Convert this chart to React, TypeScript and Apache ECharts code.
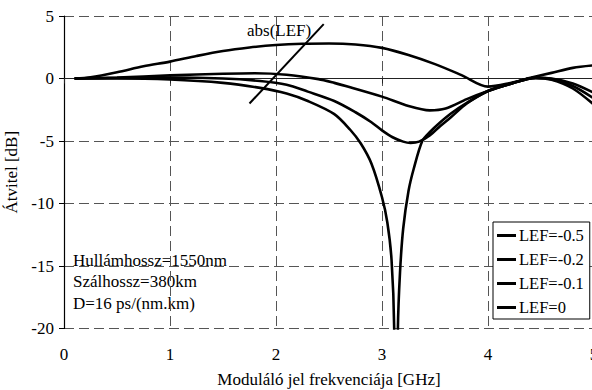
import React, { useEffect, useRef } from "react";
import * as echarts from "echarts";

const seriesNames = ["LEF=-0.5", "LEF=-0.2", "LEF=-0.1", "LEF=0"];

const freqA = [0.1, 0.25, 0.5, 0.75, 1.0, 1.25, 1.5, 1.75, 2.0, 2.25, 2.5, 2.75, 3.0, 3.25, 3.5, 3.75, 4.0, 4.2, 4.4, 4.6, 4.8, 5.0];
const valsA = [0, 0.1, 0.5, 0.98, 1.35, 1.8, 2.2, 2.48, 2.68, 2.78, 2.8, 2.72, 2.45, 1.88, 1.15, 0.27, -0.65, -0.38, 0.05, 0.45, 0.85, 1.05];

const freqB = [0.1, 0.5, 1.0, 1.5, 1.8, 2.1, 2.4, 2.55, 2.7, 3.0, 3.25, 3.45, 3.6, 3.8, 4.0, 4.2, 4.45, 4.6, 4.8, 5.0];
const valsB = [0, 0.08, 0.25, 0.38, 0.42, 0.3, -0.05, -0.35, -0.7, -1.45, -2.2, -2.55, -2.4, -1.65, -1.0, -0.45, 0.05, 0.0, -0.4, -1.15];

const freqC = [0.1, 0.5, 1.0, 1.5, 1.85, 2.1, 2.3, 2.55, 2.75, 2.9, 3.0, 3.1, 3.2, 3.27, 3.35, 3.45, 3.55, 3.65, 3.8, 4.0, 4.2, 4.45, 4.6, 4.8, 5.0];
const valsC = [0, 0.04, 0.08, 0.0, -0.2, -0.5, -1.05, -1.8, -2.7, -3.5, -4.15, -4.7, -5.05, -5.15, -5.05, -4.55, -3.8, -3.1, -2.0, -1.0, -0.45, 0.05, -0.05, -0.6, -1.6];

const freqD = [0.1, 0.5, 1.0, 1.5, 1.85, 2.1, 2.3, 2.55, 2.7, 2.8, 2.9, 3.0, 3.05, 3.09, 3.115, 3.13, 3.15, 3.17, 3.2, 3.25, 3.3, 3.38, 3.45, 3.55, 3.65, 3.8, 4.0, 4.2, 4.45, 4.6, 4.8, 5.0];
const valsD = [0, 0, -0.08, -0.35, -0.75, -1.2, -1.8, -2.85, -4.1, -5.2, -6.8, -9.5, -11.5, -14.5, -20, -40, -20, -15.5, -12, -9, -7.2, -5.0, -4.3, -3.5, -2.8, -1.95, -1.0, -0.45, 0.05, -0.1, -0.8, -2.1];

const xTicks = [0, 1, 2, 3, 4, 5];
const yTicks = [-20, -15, -10, -5, 0, 5];

const arrowStart = [1.75, -2.0];
const arrowEnd = [2.45, 4.35];

const noteLines = ["Hullámhossz=1550nm", "Szálhossz=380km", "D=16 ps/(nm.km)"];

const FONT = "Liberation Serif";

function pairs(f: number[], v: number[]) {
  return f.map((x, i) => [x, v[i]]);
}

export default function App() {
  const ref = useRef<HTMLDivElement>(null);
  useEffect(() => {
    document.body.style.margin = "0";
    if (!ref.current) return;
    const chart = echarts.init(ref.current, undefined, { renderer: "svg" });
    const allData = [pairs(freqA, valsA), pairs(freqB, valsB), pairs(freqC, valsC), pairs(freqD, valsD)];
    const grid = { left: 64, top: 16, width: 530, height: 312.5, containLabel: false, outerBoundsMode: "none" };
    const dash = { color: "#555", width: 1, type: [10, 5] as any };
    const txt = { fontFamily: FONT, fontSize: 17, color: "#000" };
    chart.setOption({
      animation: false,
      backgroundColor: "#fff",
      textStyle: { fontFamily: FONT },
      grid,
      xAxis: {
        type: "value",
        min: xTicks[0],
        max: xTicks[xTicks.length - 1],
        interval: 1,
        name: "Moduláló jel frekvenciája [GHz]",
        nameLocation: "middle",
        nameGap: 42,
        nameTextStyle: txt,
        axisLine: { lineStyle: { color: "#222", width: 1.2 } },
        axisTick: { show: true, length: 5, lineStyle: { color: "#222" } },
        axisLabel: { ...txt, margin: 17 },
        splitLine: { show: true, lineStyle: dash },
      },
      yAxis: {
        type: "value",
        min: yTicks[0],
        max: yTicks[yTicks.length - 1],
        interval: 5,
        name: "Átvitel [dB]",
        nameLocation: "middle",
        nameGap: 36,
        nameTextStyle: txt,
        axisLine: { show: true, lineStyle: { color: "#000", width: 1.2 } },
        axisTick: { show: true, length: 5, lineStyle: { color: "#000" } },
        axisLabel: { ...txt, margin: 10 },
        splitLine: { show: true, lineStyle: dash },
      },
      legend: {
        orient: "vertical",
        left: 493,
        top: 222,
        padding: [5, 6, 3, 4],
        itemGap: 7,
        itemWidth: 19,
        itemHeight: 3,
        icon: "rect",
        backgroundColor: "#fff",
        borderColor: "#000",
        borderWidth: 1,
        borderRadius: 0,
        textStyle: { ...txt, fontSize: 16.5, lineHeight: 16, padding: [0, 0, 0, -2] },
        data: seriesNames,
      },
      series: seriesNames.map((name, i) => ({
        name,
        type: "line",
        data: allData[i],
        showSymbol: false,
        symbol: "none",
        smooth: 0.3,
        clip: true,
        color: "#000",
        lineStyle: { color: "#000", width: 2.6 },
        z: 3,
        markLine:
          i === 0
            ? {
                silent: true,
                symbol: ["none", "arrow"],
                symbolSize: [0, 11],
                lineStyle: { color: "#000", width: 2, type: "solid" },
                label: { show: false },
                data: [[{ coord: arrowStart }, { coord: arrowEnd }]],
              }
            : undefined,
      })),
      graphic: [
        {
          type: "text",
          left: 247,
          top: 22,
          z: 50,
          style: { text: "abs(LEF)", fontFamily: FONT, fontSize: 17, fill: "#000" },
        },
        {
          type: "group",
          left: 66,
          top: 249,
          z: 50,
          children: [
            { type: "rect", shape: { x: 0, y: 0, width: 166, height: 62 }, style: { fill: "#fff" } },
            ...noteLines.map((t, i) => ({
              type: "text",
              x: 7,
              y: 11 + i * 21.5,
              style: { text: t, fontFamily: FONT, fontSize: 17, fill: "#000", verticalAlign: "middle" },
            })),
          ],
        },
      ],
    });
    return () => chart.dispose();
  }, []);
  return <div ref={ref} style={{ width: 592, height: 390 }} />;
}
